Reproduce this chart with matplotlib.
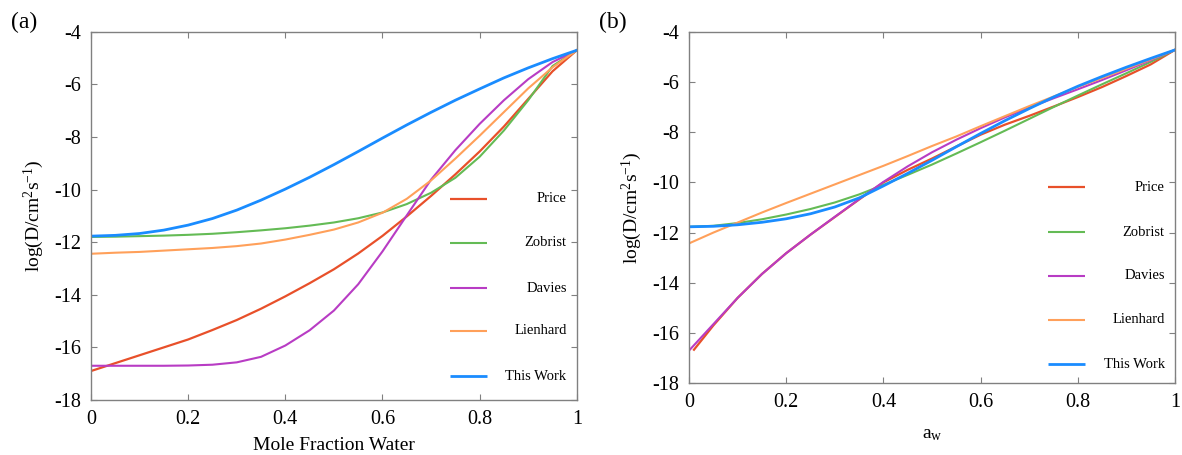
import numpy as np
import matplotlib
matplotlib.use("Agg")
import matplotlib.pyplot as plt

plt.rcParams['font.family'] = ['Liberation Serif', 'DejaVu Serif']
plt.rcParams['mathtext.default'] = 'regular'

# ---- data ----
x = np.round(np.arange(0, 1.0001, 0.05), 2)

# (a) vs mole fraction water
price_a = [-16.9, -16.6, -16.3, -16.0, -15.7, -15.34, -14.96, -14.53, -14.06, -13.56,
           -13.03, -12.43, -11.76, -11.02, -10.24, -9.42, -8.55, -7.6, -6.55, -5.5, -4.7]
zobrist_a = [-11.8, -11.79, -11.77, -11.75, -11.72, -11.68, -11.62, -11.55, -11.47, -11.37,
             -11.25, -11.09, -10.87, -10.55, -10.12, -9.55, -8.75, -7.75, -6.6, -5.3, -4.7]
davies_a = [-16.7, -16.7, -16.7, -16.7, -16.69, -16.66, -16.57, -16.36, -15.93, -15.35,
            -14.6, -13.6, -12.35, -10.98, -9.62, -8.5, -7.5, -6.6, -5.8, -5.15, -4.7]
lienhard_a = [-12.44, -12.4, -12.37, -12.32, -12.27, -12.22, -12.15, -12.05, -11.9, -11.72,
              -11.52, -11.25, -10.88, -10.35, -9.65, -8.82, -7.95, -7.05, -6.15, -5.35, -4.7]
thiswork_a = [-11.77, -11.74, -11.67, -11.54, -11.35, -11.1, -10.78, -10.4, -9.98, -9.53,
              -9.05, -8.55, -8.04, -7.54, -7.06, -6.6, -6.17, -5.75, -5.37, -5.02, -4.7]

# (b) vs water activity
price_b_x = [0.01] + list(x[1:])
price_b = [-16.67, -15.7, -14.6, -13.65, -12.82, -12.08, -11.38, -10.68, -10.0, -9.5,
           -9.05, -8.57, -8.1, -7.7, -7.35, -6.98, -6.6, -6.2, -5.76, -5.3, -4.72]
zobrist_b = [-11.77, -11.73, -11.62, -11.47, -11.28, -11.06, -10.8, -10.48, -10.1, -9.7,
             -9.29, -8.85, -8.4, -7.94, -7.47, -7.0, -6.54, -6.09, -5.65, -5.2, -4.72]
davies_b = [-16.7, -15.65, -14.6, -13.65, -12.82, -12.08, -11.37, -10.67, -9.98, -9.36,
            -8.8, -8.3, -7.84, -7.41, -7.02, -6.65, -6.29, -5.92, -5.53, -5.13, -4.72]
lienhard_b = [-12.43, -12.0, -11.6, -11.2, -10.82, -10.45, -10.08, -9.71, -9.34, -8.95,
              -8.55, -8.17, -7.76, -7.36, -6.96, -6.58, -6.2, -5.84, -5.47, -5.1, -4.72]
thiswork_b = [-11.77, -11.75, -11.69, -11.59, -11.45, -11.25, -10.98, -10.62, -10.14, -9.64,
              -9.12, -8.58, -8.05, -7.54, -7.06, -6.6, -6.17, -5.78, -5.41, -5.06, -4.72]

names = ['Price', 'Zobrist', 'Davies', 'Lienhard', 'This Work']
colors = ['#e8502a', '#64bb55', '#b83cc4', '#ffa05a', '#1a8cff']
widths = [1.6, 1.5, 1.5, 1.5, 2.0]

yticks = [-4, -6, -8, -10, -12, -14, -16, -18]
xticks = [0, 0.2, 0.4, 0.6, 0.8, 1]
xticklabels = ['0', '0.2', '0.4', '0.6', '0.8', '1']

fig = plt.figure(figsize=(11.82, 4.55), dpi=100)
ax_a = fig.add_axes([0.077, 0.121, 0.411, 0.809])
ax_b = fig.add_axes([0.583, 0.158, 0.411, 0.772])


def style(ax):
    ax.set_xlim(0, 1)
    ax.set_ylim(-18, -4)
    ax.set_xticks(xticks)
    ax.set_xticklabels(xticklabels)
    ax.set_yticks(yticks)
    ax.set_yticklabels([str(t) for t in yticks])
    for s in ax.spines.values():
        s.set_color('#808080')
        s.set_linewidth(1.0)
    ax.tick_params(direction='in', length=4, width=0.8, color='#808080',
                   top=True, right=True, labelsize=14.5, pad=7)
    ax.set_ylabel('log(D/cm$^{2}$s$^{-1}$)', fontsize=14, labelpad=6)


def legend(ax, ys):
    for n, c, w, yy in zip(names, colors, widths, ys):
        ax.plot([0.739, 0.815], [yy, yy], color=c, lw=w, transform=ax.transAxes,
                solid_capstyle='butt')
        ax.text(0.979, yy, n, transform=ax.transAxes, ha='right', va='center',
                fontsize=10.5)


series_a = [price_a, zobrist_a, davies_a, lienhard_a, thiswork_a]
for s, c, w in zip(series_a, colors, widths):
    ax_a.plot(x, s, color=c, lw=w)
style(ax_a)
ax_a.set_xlabel('Mole Fraction Water', fontsize=14, labelpad=6)
legend(ax_a, [0.546, 0.427, 0.304, 0.188, 0.065])

xs_b = [price_b_x, x, x, x, x]
series_b = [price_b, zobrist_b, davies_b, lienhard_b, thiswork_b]
for xx, s, c, w in zip(xs_b, series_b, colors, widths):
    ax_b.plot(xx, s, color=c, lw=w)
style(ax_b)
ax_b.set_xlabel('a$_{w}$', fontsize=14, labelpad=10)
legend(ax_b, [0.558, 0.43, 0.305, 0.18, 0.054])

fig.text(0.009, 0.95, '(a)', fontsize=17, va='center')
fig.text(0.507, 0.95, '(b)', fontsize=17, va='center')

fig.savefig('out.png', dpi=100)
